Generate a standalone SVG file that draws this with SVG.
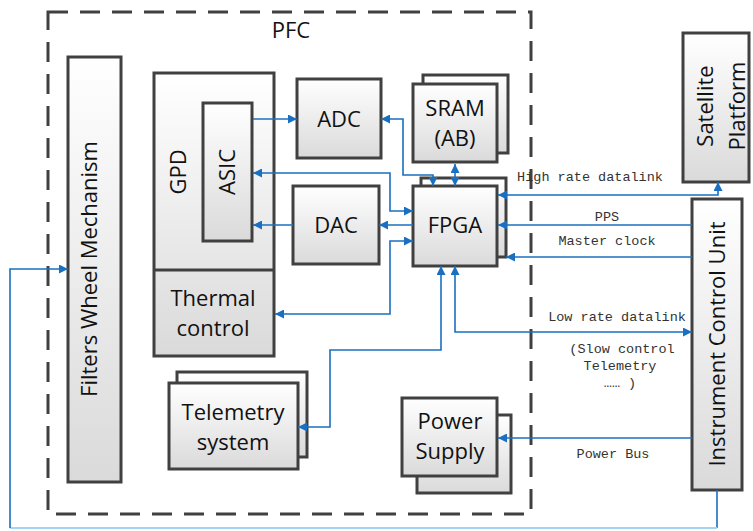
<svg xmlns="http://www.w3.org/2000/svg" width="753" height="531" viewBox="0 0 753 531">
<defs>
<linearGradient id="g" x1="0" y1="0" x2="0" y2="1">
<stop offset="0" stop-color="#ffffff"/>
<stop offset="1" stop-color="#dadada"/>
</linearGradient>
<marker id="a" viewBox="0 0 10 10" refX="10" refY="5" markerWidth="9" markerHeight="9" markerUnits="userSpaceOnUse" orient="auto-start-reverse">
<path d="M0,0 L10,5 L0,10 z" fill="#1a6fc0"/>
</marker>
<style>
.b{fill:url(#g);stroke:#404040;stroke-width:3}
.t{font-family:"Open Sans","Noto Sans",sans-serif;font-size:22px;fill:#111;text-anchor:middle}
.l{font-family:"Liberation Mono",monospace;font-size:13.5px;fill:#333;text-anchor:middle}
.c{fill:none;stroke:#1a6fc0;stroke-width:1.6}
.c2{fill:none;stroke:#1a6fc0;stroke-width:1.6;marker-end:url(#a)}
.c3{fill:none;stroke:#1a6fc0;stroke-width:1.6;marker-end:url(#a);marker-start:url(#a)}
</style>
</defs>
<rect width="753" height="531" fill="#fff"/>
<g id="pfc">
<rect x="48" y="12" width="483" height="502" fill="none" stroke="#404040" stroke-width="3" stroke-dasharray="20 12"/>
<text class="t" x="291" y="38">PFC</text>
</g>
<g id="fwm">
<rect class="b" x="68" y="57" width="53" height="425"/>
<text class="t" transform="translate(97,269) rotate(-90)" y="0">Filters Wheel Mechanism</text>
</g>
<g id="gpd">
<rect class="b" x="154" y="73" width="120" height="283"/>
<line x1="154" y1="270" x2="274" y2="270" stroke="#404040" stroke-width="3"/>
<text class="t" transform="translate(186,172) rotate(-90)">GPD</text>
<text class="t" x="213" y="306">Thermal</text>
<text class="t" x="213" y="336">control</text>
</g>
<g id="asic">
<rect class="b" x="203" y="103" width="49" height="138"/>
<text class="t" transform="translate(235,172) rotate(-90)">ASIC</text>
</g>
<g id="adc">
<rect class="b" x="297" y="79" width="84" height="79"/>
<text class="t" x="339" y="127">ADC</text>
</g>
<g id="dac">
<rect class="b" x="293" y="186" width="86" height="78"/>
<text class="t" x="336" y="233">DAC</text>
</g>
<g id="sram">
<rect class="b" x="423" y="75" width="85" height="78"/>
<rect class="b" x="413" y="84" width="84" height="78"/>
<text class="t" x="455" y="116">SRAM</text>
<text class="t" x="455" y="146">(AB)</text>
</g>
<g id="fpga">
<rect class="b" x="421" y="178" width="85" height="79"/>
<rect class="b" x="413" y="186" width="84" height="80"/>
<text class="t" x="455" y="233">FPGA</text>
</g>
<g id="telemetry">
<rect class="b" x="177" y="372" width="130" height="85"/>
<rect class="b" x="169" y="383" width="129" height="86"/>
<text class="t" x="233" y="420">Telemetry</text>
<text class="t" x="233" y="450">system</text>
</g>
<g id="power">
<rect class="b" x="417" y="415" width="94" height="78"/>
<rect class="b" x="402" y="398" width="95" height="78"/>
<text class="t" x="450" y="429">Power</text>
<text class="t" x="450" y="459">Supply</text>
</g>
<g id="satellite">
<rect class="b" x="683" y="33" width="66" height="149"/>
<text class="t" transform="translate(705,106) rotate(-90)" y="8">Satellite</text>
<text class="t" transform="translate(737,106) rotate(-90)" y="8">Platform</text>
</g>
<g id="icu">
<rect class="b" x="692" y="199" width="50" height="291"/>
<text class="t" transform="translate(717,344) rotate(-90)" y="8">Instrument Control Unit</text>
</g>
<g id="connectors">
<path class="c2" d="M253,119 H297"/>
<path class="c3" d="M381,119 H403 V175 H433 V186"/>
<path class="c3" d="M253,173 H390 V211 H413"/>
<path class="c2" d="M413,225 H379"/>
<path class="c2" d="M293,225 H253"/>
<path class="c3" d="M413,241 H390 V314 H275"/>
<path class="c3" d="M455,164 V186"/>
<path class="c3" d="M498,195 H718 V182"/>
<path class="c2" d="M692,225 H498"/>
<path class="c2" d="M692,257 H506"/>
<path class="c3" d="M455,266 V332 H692"/>
<path class="c3" d="M441,266 V350 H330 V427 H298"/>
<path class="c2" d="M692,438 H498"/>
<path class="c" d="M717,490 V528"/>
<path fill="none" stroke="#a6d3f3" stroke-width="2" d="M717,528 H10"/>
<path class="c2" d="M10,528 V269 H68"/>
</g>
<g id="labels">
<text class="l" x="590" y="181">High rate datalink</text>
<text class="l" x="607" y="221">PPS</text>
<text class="l" x="607" y="245">Master clock</text>
<text class="l" x="617" y="321">Low rate datalink</text>
<text class="l" x="622" y="353">(Slow control</text>
<text class="l" x="620" y="370">Telemetry</text>
<text class="l" x="620" y="387">…… )</text>
<text class="l" x="613" y="458">Power Bus</text>
</g>
</svg>
